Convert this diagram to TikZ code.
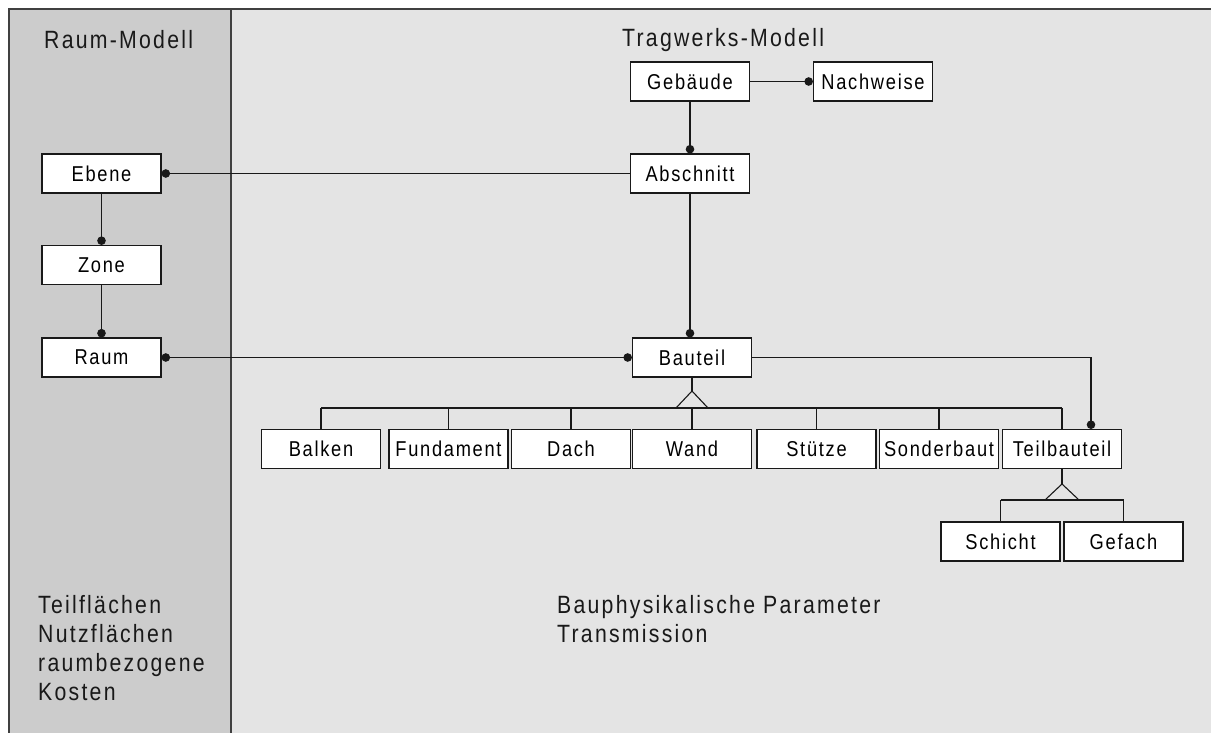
\documentclass[tikz,border=0pt]{standalone}
\usepackage{fontspec}
\setmainfont{Liberation Sans}
\newfontfamily\boxfont[FakeStretch=0.85,LetterSpace=8]{Liberation Sans}
\newfontfamily\labfont[FakeStretch=0.85,LetterSpace=9]{Liberation Sans}
\usetikzlibrary{arrows.meta}
\definecolor{leftgray}{RGB}{204,204,204}
\definecolor{rightgray}{RGB}{228,228,228}
\definecolor{ink}{RGB}{25,25,25}
\begin{document}
\begin{tikzpicture}[x=1pt,y=-1pt,
  box/.style={draw=ink, fill=white, line width=1.1pt, minimum width=119pt, minimum height=39pt, inner sep=0pt, font=\boxfont\fontsize{21.5}{24}\selectfont},
  conn/.style={draw=ink, line width=1.1pt},
  dotend/.style={-{Circle[length=8.5pt,width=8.5pt]}},
  lab/.style={font=\labfont\fontsize{25}{29}\selectfont, inner sep=0pt, anchor=base west, text=ink},
  frame/.style={draw=black!75, line width=1.6pt}]
\useasboundingbox (0,0) rectangle (1211,733);
\fill[white] (0,0) rectangle (1211,733);
\fill[leftgray] (9,9) rectangle (231,733);
\fill[rightgray] (231,9) rectangle (1211,733);
\draw[frame] (9,733) -- (9,9) -- (1211,9);
\draw[frame] (231,9) -- (231,733);

% titles and texts
\node[lab] (tRaum) at (44,49) {Raum-Modell};
\node[lab] (tTrag) at (622,47) {Tragwerks-Modell};
\node[lab] (l1) at (38,613) {Teilflächen};
\node[lab] (l2) at (38,642) {Nutzflächen};
\node[lab] (l3) at (38,671) {raumbezogene};
\node[lab] (l4) at (38,700) {Kosten};
\node[lab] (r1) at (557,613) {Bauphysikalische Parameter};
\node[lab] (r2) at (557,642) {Transmission};

% boxes
\node[box] (Gebaeude) at (690,81.5) {Gebäude};
\node[box] (Nachweise) at (873,81.5) {Nachweise};
\node[box] (Abschnitt) at (690,173.5) {Abschnitt};
\node[box] (Ebene) at (101.5,173.5) {Ebene};
\node[box] (Zone) at (101.5,265) {Zone};
\node[box] (Raum) at (101.5,357.5) {Raum};
\node[box] (Bauteil) at (692,357.5) {Bauteil};
\node[box] (Balken) at (321,449) {Balken};
\node[box] (Fundament) at (448.5,449) {Fundament};
\node[box] (Dach) at (571,449) {Dach};
\node[box] (Wand) at (692,449) {Wand};
\node[box] (Stuetze) at (816.5,449) {Stütze};
\node[box] (Sonderbaut) at (939,449) {Sonderbaut};
\node[box] (Teilbauteil) at (1062,449) {Teilbauteil};
\node[box] (Schicht) at (1000.5,541.5) {Schicht};
\node[box] (Gefach) at (1123.5,541.5) {Gefach};

% associations
\draw[conn,dotend] (Gebaeude.east) -- (Nachweise.west);
\draw[conn,dotend] (Gebaeude.south) -- (Abschnitt.north);
\draw[conn,dotend] (Abschnitt.west) -- (Ebene.east);
\draw[conn,dotend] (Ebene.south) -- (Zone.north);
\draw[conn,dotend] (Zone.south) -- (Raum.north);
\draw[conn,{Circle[length=8.5pt,width=8.5pt]}-{Circle[length=8.5pt,width=8.5pt]}] (Raum.east) -- (Bauteil.west);
\draw[conn,dotend] (Abschnitt.south) -- (Abschnitt.south |- Bauteil.north);
\coordinate (tbtin) at ([xshift=29pt]Teilbauteil.north);
\draw[conn,dotend] (Bauteil.east) -| (tbtin);

% generalisation 1
\coordinate (apex1) at (692,391);
\coordinate (bar1) at (692,408);
\draw[conn] (Bauteil.south) -- (apex1);
\draw[conn] ([xshift=-16pt]bar1) -- (apex1) -- ([xshift=16pt]bar1);
\draw[conn] (Balken.north |- bar1) -- (Teilbauteil.north |- bar1);
\foreach \n in {Balken,Fundament,Dach,Wand,Stuetze,Sonderbaut,Teilbauteil}
  \draw[conn] (\n.north) -- (\n.north |- bar1);

% generalisation 2
\coordinate (apex2) at (1062,484);
\coordinate (bar2) at (1062,500);
\draw[conn] (Teilbauteil.south) -- (apex2);
\draw[conn] ([xshift=-17pt]bar2) -- (apex2) -- ([xshift=17pt]bar2);
\draw[conn] (Schicht.north |- bar2) -- (Gefach.north |- bar2);
\foreach \n in {Schicht,Gefach}
  \draw[conn] (\n.north) -- (\n.north |- bar2);
\end{tikzpicture}
\end{document}
